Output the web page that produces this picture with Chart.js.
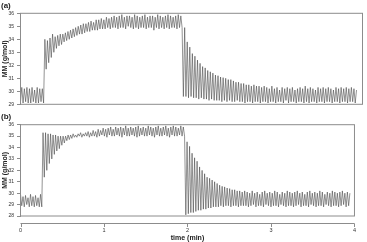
<!DOCTYPE html>
<html>
<head>
<meta charset="utf-8">
<script src="https://cdn.jsdelivr.net/npm/chart.js@4.4.0/dist/chart.umd.min.js"></script>
<style>
  body { margin: 0; background: #fff; }
  #wrap { position: relative; width: 367px; height: 242px; font-family: "Liberation Sans", Arial, sans-serif; }
  .panel { position: absolute; left: 0; width: 367px; }
  .tag { position: absolute; left: 1px; font-weight: bold; font-size: 8px; color: #222; line-height: 1; }
</style>
</head>
<body>
<div id="wrap">
  <div class="panel" style="top:0;height:112px"><canvas id="chartA" width="367" height="112"></canvas></div>
  <div class="panel" style="top:112px;height:130px"><canvas id="chartB" width="367" height="130"></canvas></div>
  <div class="tag" style="top:2px">(a)</div>
  <div class="tag" style="top:113px">(b)</div>
</div>
<script>
// sampling step of the recorded signal, in minutes (one value every half cycle)
const DT = 0.015;
const X_TICKS = [0, 1, 2, 3, 4];

// panel (a): base line, switch-on, switch-off
const aBase = [29.2, 30.3, 29.1, 30.2, 29.2, 30.3, 29.1, 30.2, 29.1, 30.3,
  29.2, 30.1, 29.1, 30.3, 29.1, 30.2, 29.2, 30.2, 29.1];
const aRise = [
  34.0, 31.7, 33.9, 32.2, 34.1, 32.6, 34.4, 33.0, 34.2, 33.3,
  34.3, 33.5, 34.4, 33.6, 34.4, 33.8, 34.5, 33.9, 34.6, 34.0,
  34.7, 34.1, 34.8, 34.2, 34.9, 34.3, 35.0, 34.4, 35.1, 34.4,
  35.2, 34.5, 35.2, 34.6, 35.3, 34.6, 35.4, 34.7, 35.3, 34.7,
  35.5, 34.7, 35.5, 34.8, 35.6, 34.8, 35.5, 34.8, 35.7, 34.9,
  35.6, 34.8, 35.7, 34.9, 35.8, 34.9, 35.7, 34.8, 35.8, 34.9,
  35.9, 34.9, 35.7, 34.8, 35.8, 35.0, 35.8, 34.9, 35.7, 34.8,
  35.9, 34.9, 35.8, 34.8, 35.7, 34.9, 35.8, 34.9, 35.9, 34.8,
  35.7, 34.9, 35.8, 34.9, 35.8, 34.7, 35.7, 34.9, 35.9, 34.8,
  35.8, 34.9, 35.7, 34.8, 35.8, 34.9, 35.9, 34.8, 35.8, 34.9,
  35.7, 34.9, 35.8, 34.8, 35.9, 34.9, 35.8, 34.9];
const aDrop = [
  29.6, 34.9, 29.6, 33.8, 29.5, 33.4, 29.6, 32.9, 29.5, 32.7,
  29.5, 32.4, 29.4, 32.15, 29.5, 31.9, 29.4, 31.8, 29.4, 31.6,
  29.3, 31.5, 29.4, 31.4, 29.3, 31.25, 29.3, 31.2, 29.3, 31.1,
  29.2, 31.05, 29.3, 31.0, 29.2, 30.9, 29.3, 30.9, 29.2, 30.8,
  29.2, 30.7, 29.3, 30.7, 29.2, 30.6, 29.2, 30.6, 29.1, 30.5,
  29.2, 30.5, 29.2, 30.4, 29.1, 30.5, 29.2, 30.4, 29.2, 30.4,
  29.1, 30.3, 29.2, 30.4,
  29.2, 30.3, 29.1, 30.2, 29.2, 30.4, 29.2, 30.2, 29.1, 30.3,
  29.2, 30.1, 29.2, 30.3, 29.1, 30.2, 29.3, 30.3, 29.1, 30.2,
  29.2, 30.3, 29.2, 30.1, 29.1, 30.2, 29.2, 30.3, 29.2, 30.2,
  29.1, 30.4, 29.2, 30.2, 29.1, 30.3, 29.2, 30.2, 29.2, 30.1,
  29.1, 30.3, 29.2, 30.2, 29.2, 30.3, 29.1, 30.2, 29.2, 30.3,
  29.2, 30.2, 29.1, 30.1, 29.2, 30.3, 29.2, 30.2, 29.1, 30.3,
  29.2, 30.2, 29.2, 30.3, 29.1, 30.2, 29.2, 30.3, 29.2, 30.2,
  29.1, 30.1];

// panel (b)
const bBase = [29.9, 28.9, 29.7, 28.8, 29.8, 29.0, 29.6, 28.8, 29.9, 28.9,
  29.7, 28.8, 29.8, 28.9, 29.6, 28.8, 29.9, 28.8];
const bRise = [
  35.3, 31.4, 35.3, 32.0, 35.2, 32.6, 35.2, 33.0, 35.1, 33.4,
  35.1, 33.7, 35.0, 33.9, 35.0, 34.2, 35.0, 34.4, 35.0, 34.6,
  35.1, 34.7, 35.1, 34.8, 35.2, 34.9, 35.1, 34.9, 35.2, 35.0,
  35.3, 34.9, 35.2, 35.0, 35.3, 35.0, 35.4, 34.9, 35.3, 35.0,
  35.5, 35.0, 35.4, 34.9, 35.6, 35.0, 35.5, 35.1, 35.7, 35.0,
  35.6, 34.9, 35.7, 35.1, 35.8, 35.0, 35.6, 35.0, 35.8, 35.1,
  35.7, 35.0, 35.8, 34.9, 35.7, 35.1, 35.9, 35.0, 35.7, 35.0,
  35.8, 35.1, 35.7, 35.0, 35.8, 34.9, 35.9, 35.0, 35.7, 35.1,
  35.8, 35.0, 35.7, 35.0, 35.9, 35.1, 35.8, 35.0, 35.7, 34.9,
  35.8, 35.1, 35.9, 35.0, 35.7, 35.0, 35.8, 35.1, 35.9, 35.0,
  35.7, 34.9, 35.8, 35.1, 35.9, 35.0, 35.8, 35.0, 35.7, 35.1,
  35.9, 35.0, 35.8, 35.0];
const bDrop = [
  28.1, 34.5, 28.2, 34.1, 28.3, 33.5, 28.3, 33.1, 28.4, 32.8,
  28.5, 32.3, 28.5, 32.0, 28.6, 31.7, 28.6, 31.4, 28.7, 31.3,
  28.7, 31.15, 28.8, 31.0, 28.8, 30.85, 28.8, 30.7, 28.9, 30.6,
  28.8, 30.55, 28.9, 30.45, 28.9, 30.4, 28.8, 30.3, 28.9, 30.3,
  28.9, 30.2, 28.8, 30.2, 28.9, 30.1, 28.9, 30.2,
  28.9, 30.1, 28.8, 30.0, 28.9, 30.2, 29.0, 30.0, 28.8, 30.1,
  28.9, 29.9, 28.9, 30.1, 28.8, 30.2, 29.0, 30.0, 28.9, 30.1,
  28.8, 30.0, 28.9, 30.2, 28.9, 30.1, 28.8, 29.9, 29.0, 30.1,
  28.9, 30.0, 28.8, 30.2, 28.9, 30.1, 28.9, 30.0, 28.8, 30.1,
  28.9, 30.2, 29.0, 30.0, 28.8, 30.1, 28.9, 29.9, 28.9, 30.1,
  28.8, 30.2, 29.0, 30.0, 28.9, 30.1, 28.8, 30.0, 28.9, 30.2,
  28.9, 30.1, 28.8, 29.9, 29.0, 30.1, 28.9, 30.0, 28.8, 30.2,
  28.9, 30.1, 28.9, 30.0, 28.8, 30.1, 28.9, 30.2, 29.0, 30.0,
  28.8, 30.1, 28.9, 30.0];

const aValues = [].concat(aBase, aRise, aDrop);
const bValues = [].concat(bBase, bRise, bDrop);

const FONT = '"Liberation Sans", Arial, sans-serif';

function toPoints(vals) {
  return vals.map((v, i) => ({ x: i * DT, y: v }));
}

// frame around plot region
const boxPlugin = {
  id: 'box',
  afterDatasetsDraw(chart) {
    const { ctx, chartArea: a } = chart;
    ctx.save();
    ctx.strokeStyle = '#8c8c8c';
    ctx.lineWidth = 1;
    ctx.strokeRect(a.left, a.top, a.right - a.left, a.bottom - a.top);
    ctx.restore();
  }
};

// R style x axis, detached below the frame
const offsetAxis = {
  id: 'offsetAxis',
  afterDraw(chart, args, opts) {
    if (!opts.show) return;
    const { ctx, chartArea, scales: { x } } = chart;
    const y = Math.round(chartArea.bottom + 6.5) + 0.5;
    ctx.save();
    ctx.strokeStyle = '#8c8c8c';
    ctx.lineWidth = 1;
    ctx.beginPath();
    ctx.moveTo(x.getPixelForValue(X_TICKS[0]), y);
    ctx.lineTo(x.getPixelForValue(X_TICKS[X_TICKS.length - 1]), y);
    X_TICKS.forEach(t => {
      const px = Math.round(x.getPixelForValue(t)) + 0.5;
      ctx.moveTo(px, y);
      ctx.lineTo(px, y + 3.5);
    });
    ctx.stroke();
    ctx.restore();
  }
};

function makeChart(id, values, yMin, yMax, withX, padding) {
  return new Chart(document.getElementById(id), {
    type: 'line',
    data: {
      datasets: [{
        data: toPoints(values),
        borderColor: '#4a4a4a',
        borderWidth: 0.6,
        pointRadius: 0,
        tension: 0,
        fill: false
      }]
    },
    options: {
      responsive: false,
      animation: false,
      layout: { padding },
      plugins: { legend: { display: false }, tooltip: { enabled: false }, offsetAxis: { show: withX } },
      scales: {
        x: {
          type: 'linear', min: 0, max: 4,
          display: withX,
          afterFit: s => { s.height = withX ? 26 : 0; },
          ticks: { stepSize: 1, font: { size: 5.5, family: FONT }, color: '#333', padding: 11 },
          grid: { display: false, drawTicks: false },
          border: { display: false },
          title: { display: true, text: 'time (min)', color: '#222', padding: 0,
                   font: { size: 7, weight: 'bold', family: FONT } }
        },
        y: {
          min: yMin, max: yMax,
          afterFit: s => { s.width = 20.5; },
          ticks: { stepSize: 1, autoSkip: false, font: { size: 5, family: FONT }, color: '#333', padding: 3 },
          grid: { display: true, drawOnChartArea: false, drawTicks: true, tickLength: 3.5, color: '#8c8c8c' },
          border: { display: false },
          title: { display: true, text: 'MM (g/mol)', color: '#222', padding: { top: 0.8, bottom: 0 },
                   font: { size: 7, weight: 'bold', family: FONT } }
        }
      }
    },
    plugins: [boxPlugin, offsetAxis]
  });
}

makeChart('chartA', aValues, 29, 36, false, { top: 13.3, right: 4.5, bottom: 7.7, left: 0 });
makeChart('chartB', bValues, 28, 36, true, { top: 12.7, right: 4.5, bottom: 0, left: 0 });
</script>
</body>
</html>
